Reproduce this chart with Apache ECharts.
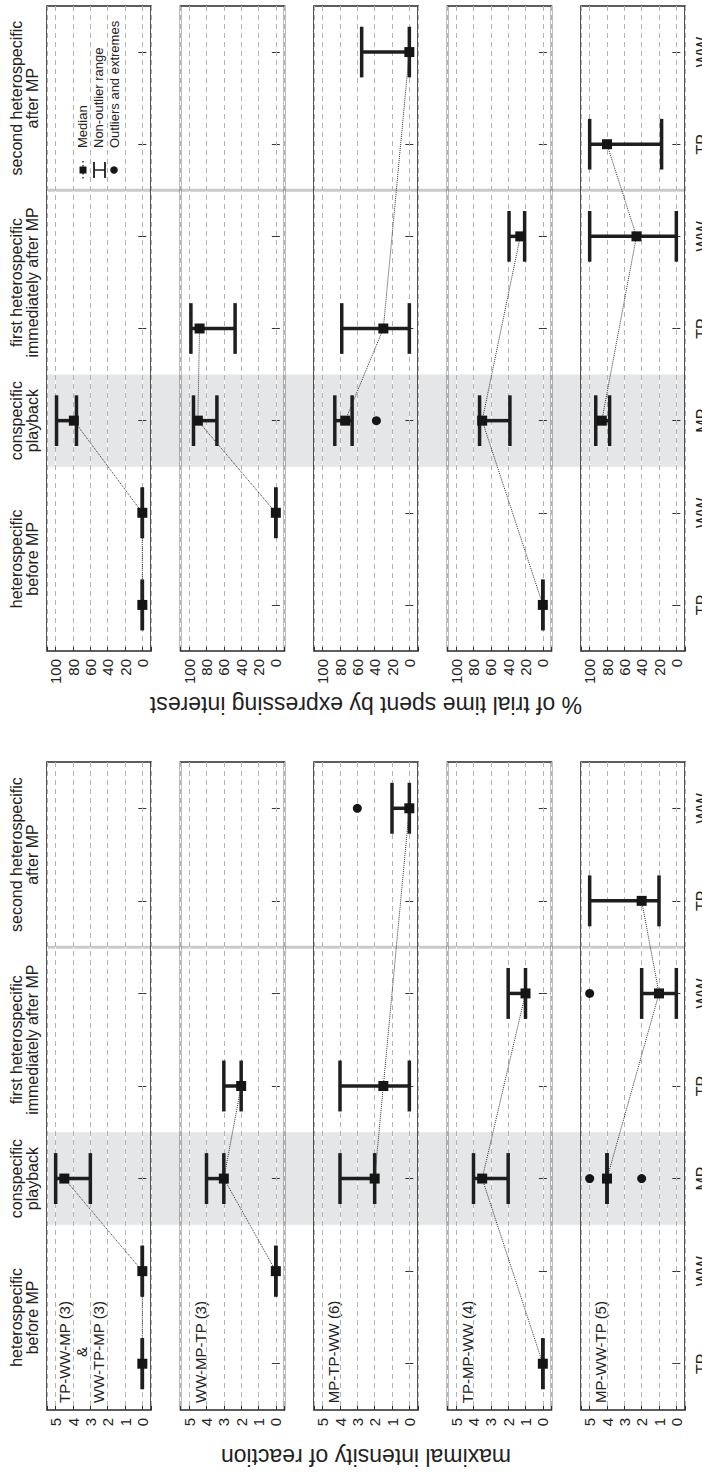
<!DOCTYPE html>
<html>
<head>
<meta charset="utf-8">
<script src="https://cdn.jsdelivr.net/npm/echarts@6/dist/echarts.min.js"></script>
<style>
html,body{margin:0;padding:0;background:#ffffff;}
#c{width:702px;height:1472px;}
</style>
</head>
<body>
<div id="c"></div>
<script>
// ---------- data ----------
const categories = ['TP', 'WW', 'MP', 'TP', 'WW', 'TP', 'WW'];
const phaseLabels = ['heterospecific\nbefore MP', 'conspecific\nplayback', 'first heterospecific\nimmediately after MP', 'second heterospecific\nafter MP'];
const phaseMembers = [[0, 1], [2], [3, 4], [5, 6]];
const conspecificIndex = 2;
const separatorAfterIndex = 4;
const groupNames = ['TP-WW-MP (3)\n&\nWW-TP-MP (3)', 'WW-MP-TP (3)', 'MP-TP-WW (6)', 'TP-MP-WW (4)', 'MP-WW-TP (5)'];
const intensityTicks = [0, 1, 2, 3, 4, 5];
const percentTicks = [0, 20, 40, 60, 80, 100];
const legendLabels = ['Median', 'Non-outlier range', 'Outliers and extremes'];
const titleIntensity = 'maximal intensity of reaction';
const titlePercent = '% of trial time spent by expressing interest';

// rows: [categoryIndex, median, low, high]
const intensity_TPWWMP = [[0, 0, 0, 0], [1, 0, 0, 0], [2, 4.5, 3, 5]];
const intensity_WWMPTP = [[1, 0, 0, 0], [2, 3, 3, 4], [3, 2, 2, 3]];
const intensity_MPTPWW = [[2, 2, 2, 4], [3, 1.5, 0, 4], [6, 0, 0, 1]];
const intensity_TPMPWW = [[0, 0, 0, 0], [2, 3.5, 2, 4], [4, 1, 1, 2]];
const intensity_MPWWTP = [[2, 4, 4, 4], [4, 1, 0, 2], [5, 2, 1, 5]];
// outliers: [categoryIndex, value]
const intensityOut_TPWWMP = [];
const intensityOut_WWMPTP = [];
const intensityOut_MPTPWW = [[6, 3]];
const intensityOut_TPMPWW = [];
const intensityOut_MPWWTP = [[2, 5], [2, 2], [4, 5]];

const percent_TPWWMP = [[0, 0, 0, 0], [1, 0, 0, 0], [2, 79, 76, 99]];
const percent_WWMPTP = [[1, 0, 0, 0], [2, 90, 68, 95], [3, 88, 47, 98]];
const percent_MPTPWW = [[2, 74, 66, 86], [3, 30, 0, 78], [6, 0, 0, 55]];
const percent_TPMPWW = [[0, 0, 0, 0], [2, 70, 38, 73], [4, 26, 21, 39]];
const percent_MPWWTP = [[2, 86, 77, 93], [4, 46, 0, 100], [5, 80, 17, 100]];
const percentOut_TPWWMP = [];
const percentOut_WWMPTP = [];
const percentOut_MPTPWW = [[2, 38]];
const percentOut_TPMPWW = [];
const percentOut_MPWWTP = [];

// ---------- layout ----------
const FONT = "'Liberation Sans', Arial, Helvetica, sans-serif";
const INK = '#1e1e1e';
const PANEL_X0 = 47, PANEL_STEP = 133.5, PANEL_W = 104;

const halves = [
  { top: 6, height: 645, min: -10, max: 110, step: 20, ticks: percentTicks,
    rows: [percent_TPWWMP, percent_WWMPTP, percent_MPTPWW, percent_TPMPWW, percent_MPWWTP],
    outs: [percentOut_TPWWMP, percentOut_WWMPTP, percentOut_MPTPWW, percentOut_TPMPWW, percentOut_MPWWTP],
    title: titlePercent, titleY: 705, legend: true, groupText: false },
  { top: 762, height: 648, min: -0.5, max: 5.5, step: 1, ticks: intensityTicks,
    rows: [intensity_TPWWMP, intensity_WWMPTP, intensity_MPTPWW, intensity_TPMPWW, intensity_MPWWTP],
    outs: [intensityOut_TPWWMP, intensityOut_WWMPTP, intensityOut_MPTPWW, intensityOut_TPMPWW, intensityOut_MPWWTP],
    title: titleIntensity, titleY: 1457, legend: false, groupText: true }
];

const grid = [], xAxis = [], yAxis = [], series = [];
const bgGridIndex = [];

function errorBarItem(params, api) {
  const y = api.value(1);
  const lo = api.coord([api.value(2), y]);
  const hi = api.coord([api.value(3), y]);
  const half = api.size([0, 1])[1] * 0.275;
  const st = { stroke: INK, lineWidth: 3.5 };
  return { type: 'group', children: [
    { type: 'line', shape: { x1: lo[0], y1: lo[1], x2: hi[0], y2: hi[1] }, style: st },
    { type: 'line', shape: { x1: lo[0], y1: lo[1] - half, x2: lo[0], y2: lo[1] + half }, style: st },
    { type: 'line', shape: { x1: hi[0], y1: hi[1] - half, x2: hi[0], y2: hi[1] + half }, style: st }
  ]};
}

halves.forEach(function (h) {
  // background grid spanning all panels (shading + separator)
  const bg = grid.length;
  bgGridIndex.push(bg);
  grid.push({ left: PANEL_X0, top: h.top, width: PANEL_STEP * 4 + PANEL_W, height: h.height, show: false,
              containLabel: false, outerBoundsMode: 'none' });
  const bx = xAxis.length;
  xAxis.push({ gridIndex: bg, type: 'value', min: 0, max: 1, show: false });
  const by = yAxis.length;
  yAxis.push({ gridIndex: bg, type: 'value', min: -0.5, max: categories.length - 0.5, show: false });
  series.push({
    type: 'custom', xAxisIndex: bx, yAxisIndex: by, z: -3, silent: true,
    data: [[conspecificIndex - 0.5, conspecificIndex + 0.5]],
    encode: { y: [0, 1] },
    renderItem: function (params, api) {
      const a = api.coord([0, api.value(0)]);
      const b = api.coord([1, api.value(1)]);
      return { type: 'rect', shape: { x: a[0], y: b[1], width: b[0] - a[0], height: a[1] - b[1] },
               style: { fill: '#e5e6e8' } };
    }
  });
  series.push({
    type: 'custom', xAxisIndex: bx, yAxisIndex: by, z: -2, silent: true,
    data: [[separatorAfterIndex + 0.5]],
    encode: { y: 0 },
    renderItem: function (params, api) {
      const a = api.coord([0, api.value(0)]);
      const b = api.coord([1, api.value(0)]);
      return { type: 'line', shape: { x1: a[0], y1: a[1], x2: b[0], y2: b[1] },
               style: { stroke: '#c9cacc', lineWidth: 3 } };
    }
  });

  for (let p = 0; p < 5; p++) {
    const gi = grid.length;
    grid.push({ left: PANEL_X0 + p * PANEL_STEP, top: h.top, width: PANEL_W, height: h.height,
                show: true, borderColor: '#2a2a2a', borderWidth: 1.6, backgroundColor: 'transparent',
                containLabel: false, outerBoundsMode: 'none' });
    const xi = xAxis.length;
    const ticks = h.ticks;
    xAxis.push({
      gridIndex: gi, type: 'value', min: h.min, max: h.max, minInterval: h.step, maxInterval: h.step,
      inverse: true, position: 'bottom', z: 1,
      axisLine: { show: false },
      axisTick: { show: true, inside: true, length: 4, lineStyle: { color: '#333', width: 1 } },
      axisLabel: { show: true, rotate: 90, margin: 8, fontSize: 15, color: '#222', fontFamily: FONT,
                   formatter: function (v) { return ticks.indexOf(v) >= 0 ? String(v) : ''; } },
      splitLine: { show: true, lineStyle: { color: '#b3b3b3', width: 1, type: [5, 4] } }
    });
    xAxis.push({
      gridIndex: gi, type: 'value', min: h.min, max: h.max, minInterval: h.step, maxInterval: h.step,
      inverse: true, position: 'top', z: 0,
      axisLine: { show: false },
      axisTick: { show: true, inside: true, length: 4, lineStyle: { color: '#333', width: 1 } },
      axisLabel: { show: false },
      splitLine: { show: true, lineStyle: { color: '#ffffff', width: 1, type: 'solid' } }
    });
    const yi = yAxis.length;
    yAxis.push({
      gridIndex: gi, type: 'category', data: categories, position: 'right',
      axisLine: { show: false },
      axisTick: { show: true, inside: true, alignWithLabel: true, interval: 0, length: 4, lineStyle: { color: '#333' } },
      axisLabel: { show: p === 4, interval: 0, rotate: 90, margin: 9, fontSize: 16, color: '#222', fontFamily: FONT },
      splitLine: { show: false }
    });
    yAxis.push({
      gridIndex: gi, type: 'category', data: categories, position: 'left',
      axisLine: { show: false },
      axisTick: { show: true, inside: true, alignWithLabel: true, interval: 0, length: 4, lineStyle: { color: '#333' } },
      axisLabel: { show: false },
      splitLine: { show: false }
    });

    const rows = h.rows[p];
    series.push({
      type: 'custom', xAxisIndex: xi, yAxisIndex: yi, z: 2, silent: true,
      data: rows.map(function (r) { return [r[1], r[0], r[2], r[3]]; }),
      encode: { x: [0, 2, 3], y: 1 },
      renderItem: errorBarItem
    });
    series.push({
      type: 'line', xAxisIndex: xi, yAxisIndex: yi, z: 3, silent: true,
      data: rows.map(function (r) { return [r[1], r[0]]; }),
      symbol: 'rect', symbolSize: 10, showSymbol: true,
      itemStyle: { color: '#151515', opacity: 1 },
      lineStyle: { color: '#333', width: 1, type: 'dotted' }
    });
    if (h.outs[p].length) {
      series.push({
        type: 'scatter', xAxisIndex: xi, yAxisIndex: yi, z: 3, silent: true,
        data: h.outs[p].map(function (o) { return [o[1], o[0]]; }),
        symbol: 'circle', symbolSize: 9,
        itemStyle: { color: '#151515', opacity: 1 }
      });
    }
  }
});

const chart = echarts.init(document.getElementById('c'), null, { renderer: 'svg', width: 702, height: 1472 });
chart.setOption({
  animation: false,
  backgroundColor: '#ffffff',
  textStyle: { fontFamily: FONT },
  grid: grid, xAxis: xAxis, yAxis: yAxis, series: series
});

// ---------- text furniture ----------
const graphic = [];
const CCW = Math.PI / 2;
halves.forEach(function (h, hi) {
  // phase labels (left side)
  phaseMembers.forEach(function (m, k) {
    const c = m.reduce(function (s, v) { return s + v; }, 0) / m.length;
    const pt = chart.convertToPixel({ gridIndex: bgGridIndex[hi] }, [0, c]);
    graphic.push({ type: 'text', x: 24.5, y: pt[1], rotation: CCW, silent: true,
      style: { text: phaseLabels[k], fontSize: 16, lineHeight: 16, fontFamily: FONT, fill: '#222',
               align: 'center', verticalAlign: 'middle' } });
  });
  // axis title (upside down)
  graphic.push({ type: 'text', x: 366, y: h.titleY, rotation: Math.PI, silent: true,
    style: { text: h.title, fontSize: 23, fontFamily: FONT, fill: '#222', align: 'center', verticalAlign: 'middle' } });
  // group labels inside panels
  if (h.groupText) {
    for (let p = 0; p < 5; p++) {
      const left = PANEL_X0 + p * PANEL_STEP;
      const multi = groupNames[p].indexOf('\n') >= 0;
      graphic.push({ type: 'text', x: left + (multi ? 34 : 19.5), y: h.top + h.height - 58, rotation: CCW, silent: true,
        style: { text: groupNames[p], fontSize: 15, lineHeight: 17, fontFamily: FONT, fill: '#222',
                 align: 'center', verticalAlign: 'middle' } });
    }
  }
  // legend
  if (h.legend) {
    const lx = [82, 98, 114];
    const iy = 170;
    legendLabels.forEach(function (t, i) {
      graphic.push({ type: 'text', x: lx[i], y: 148, rotation: CCW, silent: true,
        style: { text: t, fontSize: 13, fontFamily: FONT, fill: '#222', align: 'left', verticalAlign: 'middle' } });
    });
    graphic.push({ type: 'line', silent: true, shape: { x1: lx[0] + 1, y1: iy - 9, x2: lx[0] + 1, y2: iy + 9 },
      style: { stroke: '#333', lineWidth: 1.5, lineDash: [1.5, 2.5] } });
    graphic.push({ type: 'rect', silent: true, shape: { x: lx[0] + 1 - 3.5, y: iy - 3.5, width: 7, height: 7 },
      style: { fill: '#151515' } });
    graphic.push({ type: 'line', silent: true, shape: { x1: lx[1] - 4, y1: iy, x2: lx[1] + 7, y2: iy },
      style: { stroke: INK, lineWidth: 1.5 } });
    graphic.push({ type: 'line', silent: true, shape: { x1: lx[1] - 4, y1: iy - 8, x2: lx[1] - 4, y2: iy + 8 },
      style: { stroke: INK, lineWidth: 1.8 } });
    graphic.push({ type: 'line', silent: true, shape: { x1: lx[1] + 7, y1: iy - 8, x2: lx[1] + 7, y2: iy + 8 },
      style: { stroke: INK, lineWidth: 1.8 } });
    graphic.push({ type: 'circle', silent: true, shape: { cx: lx[2], cy: iy, r: 3.8 },
      style: { fill: '#151515' } });
  }
});
chart.setOption({ graphic: graphic });
</script>
</body>
</html>
